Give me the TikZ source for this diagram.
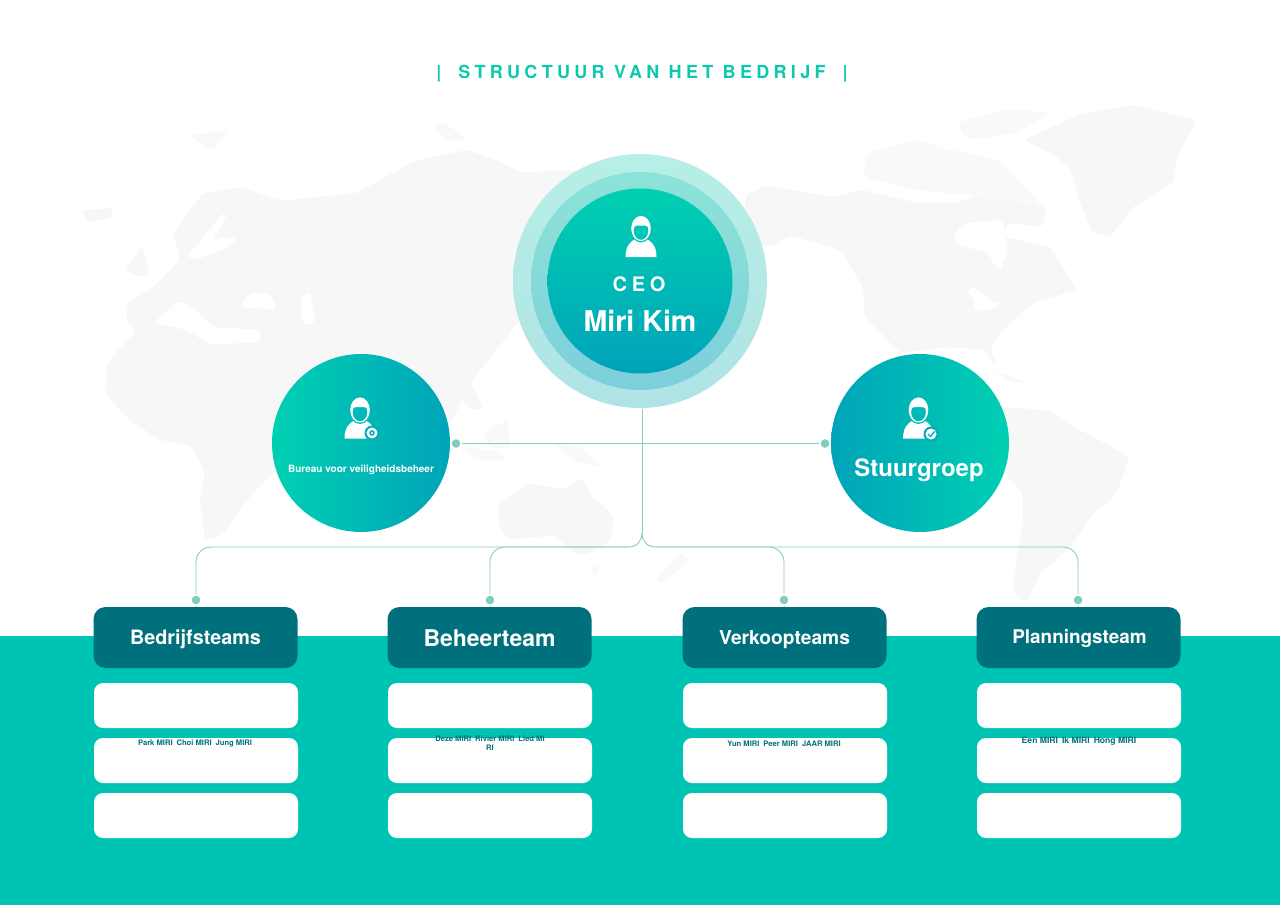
\documentclass[tikz,border=0pt]{standalone}
\usepackage{fontspec}
\setmainfont{TeX Gyre Heros}
\definecolor{mapgrey}{HTML}{F7F7F8}
\definecolor{mapfaint}{HTML}{F9F9FA}
\definecolor{bandteal}{HTML}{00C4B3}
\definecolor{headteal}{HTML}{00717C}
\definecolor{linkteal}{HTML}{84CCBD}
\definecolor{titleteal}{HTML}{0CC9AE}
\definecolor{outerTop}{HTML}{B7EFE6}
\definecolor{outerBottom}{HTML}{AFE3E6}
\definecolor{middleTop}{HTML}{8DE3D8}
\definecolor{middleBottom}{HTML}{7DCFDA}
\definecolor{greenEnd}{HTML}{00D0B2}
\definecolor{blueEnd}{HTML}{00A3B9}
\definecolor{faceCeo}{HTML}{00C6B6}
\definecolor{faceSide}{HTML}{00BAB8}
\definecolor{badgeRing}{HTML}{00AEB8}
\tikzset{
  main circle/.style={circle,inner sep=0pt,minimum size=178pt},
  head box/.style={rounded corners=12pt,fill=headteal,minimum width=204pt,minimum height=61pt,inner sep=0pt},
  member box/.style={rounded corners=9pt,fill=white,minimum width=204pt,minimum height=45pt,inner sep=0pt},
  head text/.style={text=white,font=\bfseries,inner sep=0pt},
  member text/.style={text=headteal,font=\bfseries\fontsize{7.6}{9}\selectfont,inner sep=0pt,align=center},
  link dot/.style={circle,fill=linkteal,draw=white,line width=1.5pt,minimum size=10.5pt,inner sep=0pt},
  link/.style={draw=linkteal,line width=0.9pt},
  pics/person/.style={code={
    \fill[white] (-15.5,28.5) .. controls (-15.5,18) and (-11,13) .. (-5,10) -- (5,10) .. controls (11,13) and (15.5,18) .. (15.5,28.5) -- cycle;
    \fill[#1] (0,0) ellipse (11 and 14);
    \fill[white,even odd rule] (0,0) ellipse (9.8 and 12.6) (0,2.2) ellipse (7.4 and 9.2);
    \fill[white] (-8,-1) .. controls (-7.5,-10) and (7.5,-10) .. (8,-1) .. controls (5,-3.5) and (3,-3) .. (0,-3) .. controls (-3,-3) and (-5,-3.5) .. (-8,-1) -- cycle;
  }}
}
\begin{document}
\begin{tikzpicture}[x=1pt,y=-1pt]
  \useasboundingbox (0,0) rectangle (1280,905);
  % map
  \fill[mapgrey,rounded corners=5pt]
    (127,303) -- (127,323) -- (137,330) -- (107,363) -- (105,393) -- (130,420) -- (160,440) -- (190,445)
    -- (205,470) -- (200,500) -- (205,541) -- (222,535) -- (255,490) -- (300,450) -- (450,425) -- (470,383)
    -- (520,320) -- (560,300) -- (580,170) -- (520,172) -- (497,160) -- (467,150) -- (417,160) -- (380,180)
    -- (357,193) -- (287,200) -- (277,200) -- (240,187) -- (203,193) -- (173,233) -- (180,260) -- (150,290) -- cycle;
  \fill[mapgrey,rounded corners=3pt] (83,210) -- (112,208) -- (112,218) -- (88,222) -- cycle;
  \fill[mapfaint,rounded corners=4pt] (188,135) -- (230,130) -- (212,150) -- cycle;
  \fill[mapgrey,rounded corners=3pt] (125,270) -- (142,247) -- (150,273) -- (140,277) -- cycle;
  \fill[mapfaint,rounded corners=3pt] (433,125) -- (445,123) -- (468,140) -- (445,140) -- cycle;
  \fill[white,rounded corners=3pt] (187,257) -- (223,213) -- (227,215) -- (213,240) -- (237,237) -- (230,247) -- (197,259) -- cycle;
  \fill[white,rounded corners=5pt] (153,323) -- (180,300) -- (200,313) -- (213,327) -- (260,330) -- (260,342) -- (210,345) -- (187,330) -- cycle;
  \fill[white,rounded corners=4pt] (240,307) -- (250,293) -- (270,293) -- (277,310) -- cycle;
  \fill[white,rounded corners=4pt] (300,297) -- (310,291) -- (315,323) -- (303,325) -- cycle;
  \fill[mapgrey,rounded corners=3pt] (440,380) -- (470,380) -- (483,410) -- (470,408) -- cycle;
  \fill[mapfaint,rounded corners=3pt] (483,432) -- (507,420) -- (510,448) -- (490,448) -- cycle;
  \fill[mapfaint,rounded corners=3pt] (463,447) -- (500,452) -- (507,460) -- (475,460) -- cycle;
  \fill[mapfaint,rounded corners=3pt] (553,443) -- (580,447) -- (603,467) -- (575,462) -- cycle;
  \fill[mapgrey,rounded corners=6pt] (497,505) -- (530,483) -- (565,490) -- (583,477) -- (590,495) -- (613,515) -- (612,540) -- (590,553) -- (575,555) -- (555,535) -- (510,540) -- (500,530) -- cycle;
  \fill[mapfaint,rounded corners=2pt] (590,567) -- (600,567) -- (598,574) -- (592,574) -- cycle;
  \fill[mapfaint,rounded corners=3pt] (680,552) -- (690,560) -- (676,572) -- (662,584) -- (656,580) -- cycle;
  \fill[mapgrey,rounded corners=5pt]
    (745,195) -- (767,185) -- (830,197) -- (863,190) -- (917,203) -- (957,203) -- (983,193) -- (1047,207) -- (1043,227)
    -- (1007,223) -- (1003,237) -- (1050,247) -- (1067,273) -- (1077,290) -- (1033,303) -- (1003,330) -- (990,347)
    -- (997,367) -- (985,350) -- (950,347) -- (900,353) -- (890,343) -- (865,317) -- (863,287) -- (840,250) -- (790,235)
    -- (770,247) -- (745,240) -- cycle;
  \fill[white,rounded corners=5pt] (953,237) -- (963,223) -- (1003,220) -- (1008,250) -- (1000,272) -- (992,263) -- (990,253) -- (957,245) -- cycle;
  \fill[white,rounded corners=3pt] (965,290) -- (975,287) -- (995,303) -- (1003,302) -- (990,310) -- (975,312) -- (973,298) -- cycle;
  \fill[mapfaint,rounded corners=5pt] (867,153) -- (917,140) -- (950,150) -- (1000,160) -- (1043,207) -- (983,197) -- (917,190) -- (863,177) -- cycle;
  \fill[mapfaint,rounded corners=5pt] (957,123) -- (1003,110) -- (1050,112) -- (1017,133) -- (967,140) -- cycle;
  \fill[mapgrey,rounded corners=5pt] (1023,140) -- (1083,113) -- (1133,105) -- (1197,120) -- (1177,157) -- (1173,183) -- (1133,207) -- (1110,237) -- (1093,233) -- (1080,203) -- (1070,167) -- (1050,153) -- cycle;
  \fill[mapfaint,rounded corners=2pt] (993,372) -- (1010,375) -- (1027,383) -- (1012,382) -- cycle;
  \fill[mapgrey,rounded corners=5pt]
    (1000,407) -- (1047,410) -- (1080,430) -- (1130,457) -- (1117,493) -- (1090,517) -- (1073,543) -- (1060,557) -- (1040,573)
    -- (1027,603) -- (1013,593) -- (1017,553) -- (1023,523) -- (1023,493) -- (1007,477) -- cycle;
  % band
  \fill[bandteal] (0,636) rectangle (1280,905);
  % title
  \node[text=titleteal,inner sep=0pt,font=\bfseries\fontsize{18}{20}\selectfont\addfontfeature{LetterSpace=24}] (title) at (642,74) {|\hspace{17pt}STRUCTUUR VAN HET BEDRIJF\hspace{17pt}|};
  % ceo
  \node[circle,inner sep=0pt,minimum size=254pt,top color=outerTop,bottom color=outerBottom] (ceoOuter) at (640,281) {};
  \node[circle,inner sep=0pt,minimum size=218pt,top color=middleTop,bottom color=middleBottom] (ceoMiddle) at (640,281) {};
  \node[circle,inner sep=0pt,minimum size=185pt,top color=greenEnd,bottom color=blueEnd] (ceo) at (640,281) {};
  \pic at (641,228.5) {person=faceCeo};
  \node[head text,font=\bfseries\fontsize{20}{22}\selectfont\addfontfeature{LetterSpace=24}] (ceoRole) at (639,284) {CEO};
  \node[head text,font=\bfseries\fontsize{28.6}{32}\selectfont] (ceoName) at (640,321) {Miri Kim};
  % side circles
  \node[main circle,left color=greenEnd,right color=blueEnd] (bureau) at (361,443) {};
  \pic at (360,410) {person=faceSide};
  \fill[badgeRing] (372,433) circle (7.5);
  \fill[white] (372,433) circle (5.5);
  \fill[badgeRing] (372,433) circle (2.8);
  \fill[white] (372,433) circle (1.2);
  \node[head text,font=\bfseries\fontsize{10}{12}\selectfont] (bureauName) at (361,469.5) {Bureau voor veiligheidsbeheer};
  \node[main circle,left color=blueEnd,right color=greenEnd] (stuur) at (920,443) {};
  \pic at (918.5,410) {person=faceSide};
  \fill[badgeRing] (931,434) circle (7.5);
  \fill[white] (931,434) circle (5.5);
  \draw[badgeRing,line width=1.4pt] (928,434) -- (930.5,436.5) -- (934.5,431.5);
  \node[head text,font=\bfseries\fontsize{24}{26}\selectfont] (stuurName) at (919,470) {Stuurgroep};
  % connectors
  \node[link dot] (dotBureau) at (456,443.5) {};
  \node[link dot] (dotStuur) at (825,443.5) {};
  \node[link dot] (dotA) at (196,600) {};
  \node[link dot] (dotB) at (490,600) {};
  \node[link dot] (dotC) at (784,600) {};
  \node[link dot] (dotD) at (1078,600) {};
  \coordinate (trunkTop) at (642,409);
  \coordinate (split) at (642,533);
  \coordinate (elbowL) at (628,547);
  \coordinate (elbowR) at (656,547);
  \path[link] (dotBureau) -- (dotStuur);
  \path[link] (trunkTop) -- (split);
  \path[link] (split) .. controls (642,541) and (637,547) .. (elbowL);
  \path[link] (split) .. controls (642,541) and (647,547) .. (elbowR);
  \path[link,rounded corners=15pt] (elbowL) -| (dotA);
  \path[link,rounded corners=15pt] (elbowL) -| (dotB);
  \path[link,rounded corners=15pt] (elbowR) -| (dotC);
  \path[link,rounded corners=15pt] (elbowR) -| (dotD);
  % teams
  \node[head box] (teamA) at (195.5,637.5) {};
  \node[head box] (teamB) at (489.5,637.5) {};
  \node[head box] (teamC) at (784.5,637.5) {};
  \node[head box] (teamD) at (1078.5,637.5) {};
  \path[link] (dotA) -- (dotA |- teamA.north);
  \path[link] (dotB) -- (dotB |- teamB.north);
  \path[link] (dotC) -- (dotC |- teamC.north);
  \path[link] (dotD) -- (dotD |- teamD.north);
  \node[head text,font=\bfseries\fontsize{19.8}{22}\selectfont] (teamAName) at (195.5,639) {Bedrijfsteams};
  \node[head text,font=\bfseries\fontsize{23}{25}\selectfont] (teamBName) at (489.5,638) {Beheerteam};
  \node[head text,font=\bfseries\fontsize{19.2}{21}\selectfont] (teamCName) at (784.5,640) {Verkoopteams};
  \node[head text,font=\bfseries\fontsize{18.9}{21}\selectfont] (teamDName) at (1079.5,639) {Planningsteam};
  % member boxes
  \node[member box] (boxA1) at (196,705.5) {};
  \node[member box] (boxA2) at (196,760.5) {};
  \node[member box] (boxA3) at (196,815.5) {};
  \node[member box] (boxB1) at (490,705.5) {};
  \node[member box] (boxB2) at (490,760.5) {};
  \node[member box] (boxB3) at (490,815.5) {};
  \node[member box] (boxC1) at (785,705.5) {};
  \node[member box] (boxC2) at (785,760.5) {};
  \node[member box] (boxC3) at (785,815.5) {};
  \node[member box] (boxD1) at (1079,705.5) {};
  \node[member box] (boxD2) at (1079,760.5) {};
  \node[member box] (boxD3) at (1079,815.5) {};
  \node[member text] (namesA) at (195,743.5) {Park MIRI\hspace{4pt}Choi MIRI\hspace{4pt}Jung MIRI};
  \node[member text] (namesB) at (490,743.5) {Deze MIRI\hspace{4pt}Rivier MIRI\hspace{4pt}Lied MI\\RI};
  \node[member text] (namesC) at (784,743.5) {Yun MIRI\hspace{4pt}Peer MIRI\hspace{4pt}JAAR MIRI};
  \node[member text,font=\bfseries\fontsize{8.6}{10}\selectfont] (namesD) at (1079,741.5) {Een MIRI\hspace{4pt}Ik MIRI\hspace{4pt}Hong MIRI};
\end{tikzpicture}
\end{document}
